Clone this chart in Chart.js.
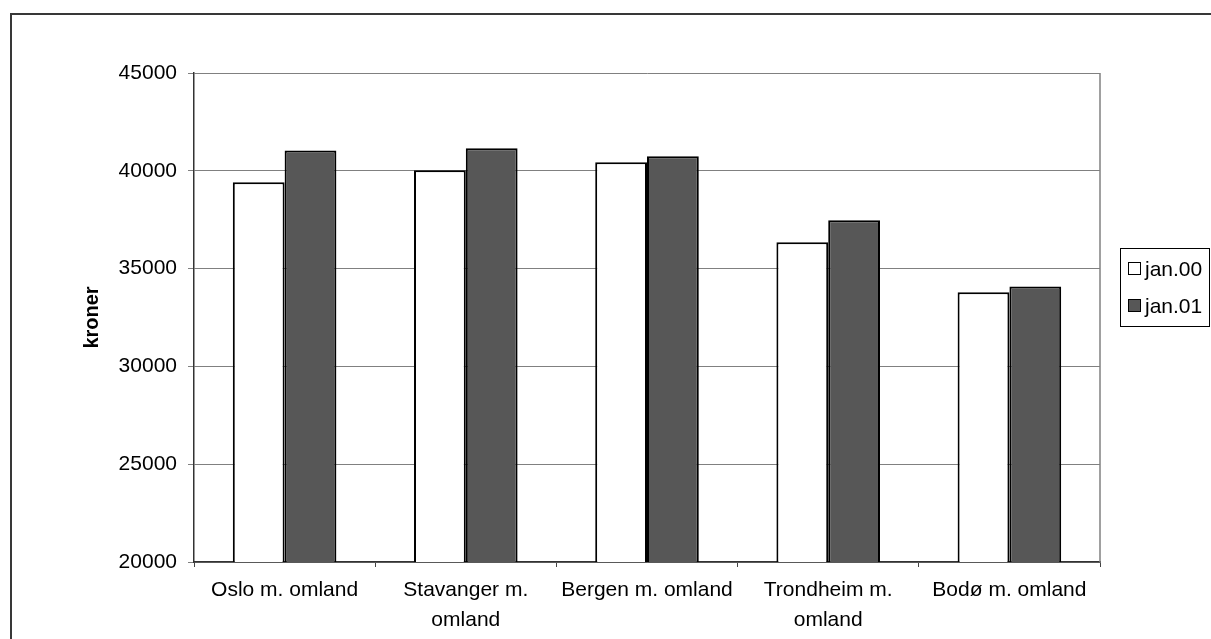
<!DOCTYPE html>
<html><head><meta charset="utf-8">
<script src="https://cdn.jsdelivr.net/npm/chart.js@4/dist/chart.umd.min.js"></script>
<style>html,body{margin:0;padding:0;background:#fff}canvas{display:block}</style>
</head><body>
<canvas id="c" width="1211" height="639"></canvas>
<script>
const categories = ["Oslo m. omland", ["Stavanger m.", "omland"], "Bergen m. omland", ["Trondheim m.", "omland"], "Bodø m. omland"];
const seriesNames = ["jan.00", "jan.01"];
const jan00 = [39420, 40030, 40440, 36350, 33790];
const jan01 = [41040, 41150, 40750, 37470, 34080];
const yTicks = [20000, 25000, 30000, 35000, 40000, 45000];
const yTitle = "kroner";

const FONT = '"Liberation Sans", Arial, sans-serif';
const colors = ["#ffffff", "#575757"];

const bgPlugin = {
  id: 'bg',
  beforeDraw(chart) {
    const ctx = chart.ctx;
    ctx.save();
    ctx.fillStyle = '#fff';
    ctx.fillRect(0, 0, chart.width, chart.height);
    ctx.restore();
  }
};

const framePlugin = {
  id: 'frame',
  afterDraw(chart) {
    const ctx = chart.ctx;
    const a = chart.chartArea;
    ctx.save();
    // outer chart border
    ctx.strokeStyle = '#383838';
    ctx.lineWidth = 2;
    ctx.beginPath();
    ctx.moveTo(11, chart.height + 5);
    ctx.lineTo(11, 14);
    ctx.lineTo(chart.width + 5, 14);
    ctx.stroke();
    // plot area right border
    ctx.strokeStyle = '#808080';
    ctx.lineWidth = 1.5;
    ctx.beginPath();
    ctx.moveTo(a.right, a.top);
    ctx.lineTo(a.right, a.bottom);
    ctx.stroke();
    // legend
    const lx = 1120.5, ly = 248.5, lw = 89, lh = 78;
    ctx.strokeStyle = '#000';
    ctx.lineWidth = 1;
    ctx.strokeRect(lx, ly, lw, lh);
    const rows = [269, 306];
    ctx.font = '21px ' + FONT;
    ctx.textBaseline = 'middle';
    ctx.textAlign = 'left';
    chart.data.datasets.forEach((ds, i) => {
      const y = rows[i];
      ctx.fillStyle = ds.backgroundColor;
      ctx.fillRect(1128.5, y - 6.5, 12, 12);
      ctx.strokeStyle = '#000';
      ctx.lineWidth = 1;
      ctx.strokeRect(1128.5, y - 6.5, 12, 12);
      ctx.fillStyle = '#000';
      ctx.fillText(ds.label, 1145, y + 1);
    });
    ctx.restore();
  }
};

new Chart(document.getElementById('c'), {
  type: 'bar',
  data: {
    labels: categories,
    datasets: [
      { label: seriesNames[0], data: jan00, backgroundColor: colors[0], borderColor: '#000', borderWidth: 2 },
      { label: seriesNames[1], data: jan01, backgroundColor: colors[1], borderColor: '#000', borderWidth: 2 }
    ]
  },
  options: {
    responsive: false,
    animation: false,
    devicePixelRatio: 1,
    layout: { padding: { top: 73, right: 111, bottom: 0, left: 0 } },
    datasets: { bar: { categoryPercentage: 0.5717, barPercentage: 1.0 } },
    plugins: { legend: { display: false }, tooltip: { enabled: false } },
    scales: {
      x: {
        afterFit(s) { s.height = 77; },
        grid: { drawOnChartArea: false, drawTicks: true, tickLength: 5, color: '#444', offset: true },
        border: { color: '#333', width: 1.5 },
        ticks: { color: '#000', font: { family: FONT, size: 21, lineHeight: 1.45 }, padding: 8, maxRotation: 0, autoSkip: false }
      },
      y: {
        min: 20000, max: 45000,
        afterFit(s) { s.width = 194; },
        afterBuildTicks(s) { s.ticks = yTicks.map(v => ({ value: v })); },
        grid: { color: '#808080', lineWidth: 1, tickLength: 6 },
        border: { color: '#333', width: 1.5 },
        ticks: { color: '#000', font: { family: FONT, size: 21 }, padding: 11, callback: v => String(v) },
        title: { display: true, text: yTitle, color: '#000', font: { family: FONT, size: 20, weight: 'bold', lineHeight: 1.2 }, padding: { top: 80, bottom: 0 } }
      }
    }
  },
  plugins: [bgPlugin, framePlugin]
});
</script>
</body></html>
